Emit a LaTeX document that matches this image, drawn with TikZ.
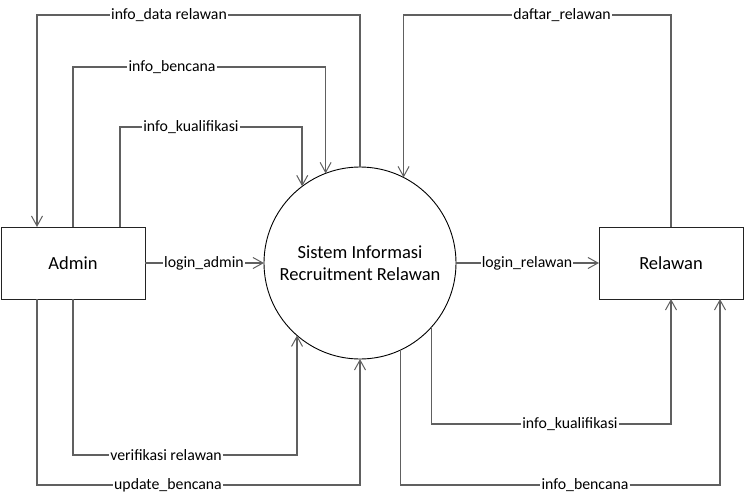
\documentclass[tikz,border=0pt]{standalone}
\usepackage{fontspec}
\setmainfont{Carlito}
\usepackage{tikz}
\usetikzlibrary{arrows.meta, positioning, calc}
\definecolor{FlowGray}{RGB}{96, 96, 96}
\definecolor{EdgeBlack}{RGB}{35, 35, 35}

\tikzset{
  entity/.style={draw=EdgeBlack, line width=1pt, minimum width=144pt,
    minimum height=72pt, outer sep=0pt, font=\fontsize{18.5}{22}\selectfont},
  process/.style={circle, draw=black, line width=0.9pt, minimum size=192pt,
    inner sep=0pt, outer sep=0pt, align=center,
    font=\fontsize{18.5}{22}\selectfont},
  flow/.style={draw=FlowGray, line width=1.6pt,
    -{Straight Barb[length=10pt, width=11pt, line width=1pt]}},
  flowlabel/.style={fill=white, inner sep=1pt, font=\fontsize{15.8}{18}\selectfont}
}

\begin{document}
\begin{tikzpicture}[x=1pt, y=-1pt]
  \useasboundingbox (0,0) rectangle (744,503);

  % entities and process
  \node[entity] (admin) at (73,263) {Admin};
  \node[entity] (relawan) at (671,263) {Relawan};
  \node[process] (sys) at (360,263) {Sistem Informasi\\Recruitment Relawan};

  % flow labels
  \node[flowlabel] (l-datarel) at (169,15) {info\_data relawan};
  \node[flowlabel] (l-benc1) at (172,67) {info\_bencana};
  \node[flowlabel] (l-kual1) at (191,127) {info\_kualifikasi};
  \node[flowlabel] (l-ladmin) at (204,263) {login\_admin};
  \node[flowlabel] (l-verif) at (166,455) {verifikasi relawan};
  \node[flowlabel] (l-upd) at (168,485) {update\_bencana};
  \node[flowlabel] (l-daftar) at (562,15) {daftar\_relawan};
  \node[flowlabel] (l-lrel) at (527,263) {login\_relawan};
  \node[flowlabel] (l-kual2) at (570,424) {info\_kualifikasi};
  \node[flowlabel] (l-benc2) at (585,485) {info\_bencana};

  % admin side
  \draw[flow] (sys.north) |- (l-datarel) -| ([xshift=-36pt]admin.north);
  \draw[flow] (admin.north) |- (l-benc1) -| (sys.111.4);
  \draw[flow] ([xshift=47pt]admin.north) |- (l-kual1) -| (sys.127.9);
  \draw[flow] (admin.east) -- (l-ladmin) -- (sys.west);
  \draw[flow] (admin.south) |- (l-verif) -| (sys.229.8);
  \draw[flow] ([xshift=-36pt]admin.south) |- (l-upd) -| (sys.south);

  % relawan side
  \draw[flow] (relawan.north) |- (l-daftar) -| (sys.63.4);
  \draw[flow] (sys.east) -- (l-lrel) -- (relawan.west);
  \draw[flow] (sys.-42.3) |- (l-kual2) -| (relawan.south);
  \draw[flow] (sys.-65.4) |- (l-benc2) -| ([xshift=49pt]relawan.south);
\end{tikzpicture}
\end{document}
